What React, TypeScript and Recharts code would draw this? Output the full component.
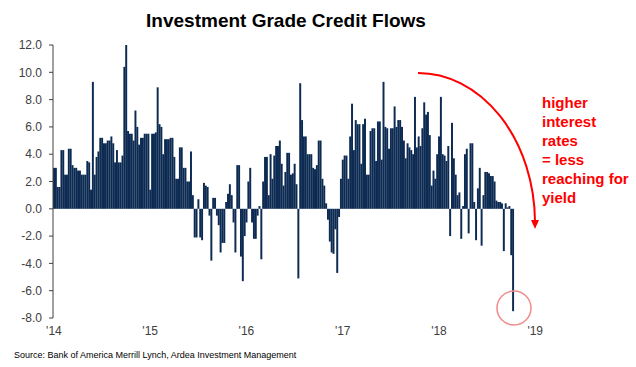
import React from 'react';
import { BarChart, Bar, XAxis, YAxis } from 'recharts';

// weekly flows, $bn, Jan 2014 -> Oct 2018
const FLOWS = [
  3.0, 3.0, 1.6, 1.6, 4.3, 4.3, 2.5, 2.5, 4.4, 4.4,
  3.2, 3.0, 3.0, 2.8, 2.8, 2.5, 2.5, 2.5, 3.5, 3.4,
  1.4, 9.3, 2.5, 3.8, 4.2, 5.2, 5.2, 4.8, 4.8, 5.0,
  5.0, 5.3, 4.8, 3.4, 4.3, 3.4, 3.4, 3.9, 10.4, 12.0,
  5.7, 5.5, 5.5, 5.0, 7.2, 6.0, 4.7, 5.2, 5.2, 5.5,
  5.5, 5.5, 1.4, 5.5, 5.5, 5.6, 8.9, 6.2, 6.0, 4.0,
  5.1, 5.1, 5.1, 5.2, 5.2, 3.8, 2.2, 2.2, 4.5, 4.5,
  3.0, 3.0, 2.0, 2.0, 4.2, 1.0, -2.1, -2.1, 0.7, -2.1,
  -2.3, 1.9, 1.7, 1.6, -0.5, -3.8, 0.8, 0.8, -0.5, -1.2,
  -3.2, -2.5, -2.5, 0.5, 1.1, 1.8, 1.0, -1.0, -3.2, 3.2,
  3.2, -3.5, -5.3, -2.0, -1.0, 2.0, 3.0, -1.0, -2.2, -2.2,
  -0.5, 0.2, -3.7, 2.0, 3.8, 3.8, 1.0, 4.0, 2.2, 3.9,
  4.6, 4.6, 5.0, 3.3, 1.7, 2.7, 4.1, 4.1, 2.5, 2.6,
  3.3, 1.8, -5.1, 9.2, 6.5, 5.3, 5.3, 4.0, 4.0, 4.0,
  3.0, 2.9, 3.2, 5.0, 5.0, 2.2, 1.7, 0.4, -0.8, -2.4,
  -3.2, -3.3, -1.5, -4.7, -0.6, 2.2, 3.6, 3.9, 3.9, 2.2,
  5.3, 7.7, 4.3, 6.5, 6.2, 6.2, 3.3, 6.2, 6.6, 2.5,
  2.5, 5.7, 5.9, 5.9, 3.5, 6.4, 6.4, 3.6, 9.3, 6.0,
  5.9, 4.4, 5.9, 5.9, 7.5, 6.0, 6.5, 6.5, 6.0, 5.0,
  3.7, 4.8, 4.5, 4.3, 4.0, 8.2, 4.5, 5.3, 4.6, 5.9,
  7.8, 6.9, 7.1, 5.4, 1.7, 2.8, 2.2, 4.0, 5.3, 8.2,
  4.0, 3.9, 3.5, 4.6, -2.0, 6.3, 3.7, 2.5, 1.0, 1.2,
  -2.2, 0.2, 4.0, 4.4, -1.8, 4.8, 4.8, 0.5, -2.3, 1.5,
  3.0, -2.7, 1.0, 2.7, 2.7, 2.6, 2.4, 2.4, 2.0, 0.6,
  0.5, 0.5, 0.4, -3.1, 0.4, 0.1, 0.2, -3.4, -7.5,
];

const TOTAL_WEEKS = 262; // axis runs to start of 2019
const YEAR_TICKS = [0, 52, 104, 156, 208, 260];
const YEAR_LABELS = ["'14", "'15", "'16", "'17", "'18", "'19"];
const Y_TICKS = [-8, -6, -4, -2, 0, 2, 4, 6, 8, 10, 12];
const NOTE_LINES = ['higher', 'interest', 'rates', '= less', 'reaching for', 'yield'];

const data = Array.from({ length: TOTAL_WEEKS }, (_, i) => ({
  week: i,
  flow: i < FLOWS.length ? FLOWS[i] : null,
}));

const FONT = '"Liberation Sans", Arial, sans-serif';

// weekly bars sit edge to edge, so draw each a touch wider than the band
const WeekBar = (props: any) => {
  const { x, y, width, height, fill } = props;
  if (x == null || height == null || !width) return null;
  const cx = x + width / 2;
  return <rect x={cx - 0.98} y={Math.min(y, y + height)} width={1.96} height={Math.abs(height)} fill={fill} />;
};

export default function App() {
  return (
    <div style={{ position: 'absolute', left: 0, top: 0, width: 636, height: 367, background: '#fff', fontFamily: FONT }}>
      <div style={{ position: 'absolute', left: 0, top: 10, width: 572, textAlign: 'center', fontSize: 19, fontWeight: 'bold', color: '#000' }}>
        Investment Grade Credit Flows
      </div>
      <BarChart
        width={636}
        height={367}
        data={data}
        margin={{ top: 45, right: 98, bottom: 19, left: 0 }}
        barCategoryGap={0}
      >
        <XAxis
          dataKey="week"
          ticks={YEAR_TICKS}
          interval={0}
          tickFormatter={(v) => YEAR_LABELS[YEAR_TICKS.indexOf(v)] ?? ''}
          axisLine={false}
          tickLine={false}
          height={30}
          tick={{ fontSize: 12, fill: '#404040', fontFamily: FONT }}
        />
        <YAxis
          domain={[-8, 12]}
          ticks={Y_TICKS}
          width={53}
          tickSize={4}
          tickMargin={7}
          tickFormatter={(v) => v.toFixed(1)}
          axisLine={{ stroke: '#404040' }}
          tickLine={{ stroke: '#404040' }}
          tick={{ fontSize: 12, fill: '#404040', fontFamily: FONT }}
        />
        <Bar dataKey="flow" fill="#0d2b52" shape={WeekBar} isAnimationActive={false} />
      </BarChart>
      <svg width={636} height={367} style={{ position: 'absolute', left: 0, top: 0, pointerEvents: 'none' }}>
        <path d="M418,73 A117,150 0 0 1 535,221" stroke="#ff0000" strokeWidth={2} fill="none" />
        <polygon points="531,220 539,220 535,229" fill="#ff0000" />
        <circle cx={514} cy={308} r={17} stroke="#f08c8c" strokeWidth={1.5} fill="none" />
        {NOTE_LINES.map((t, i) => (
          <text key={t} x={542} y={108 + i * 18.9} fill="#ff0000" fontSize={15} fontWeight="bold" fontFamily={FONT}>
            {t}
          </text>
        ))}
        <text x={14} y={358} fontSize={9} fill="#000" fontFamily={FONT}>
          Source: Bank of America Merrill Lynch, Ardea Investment Management
        </text>
      </svg>
    </div>
  );
}
